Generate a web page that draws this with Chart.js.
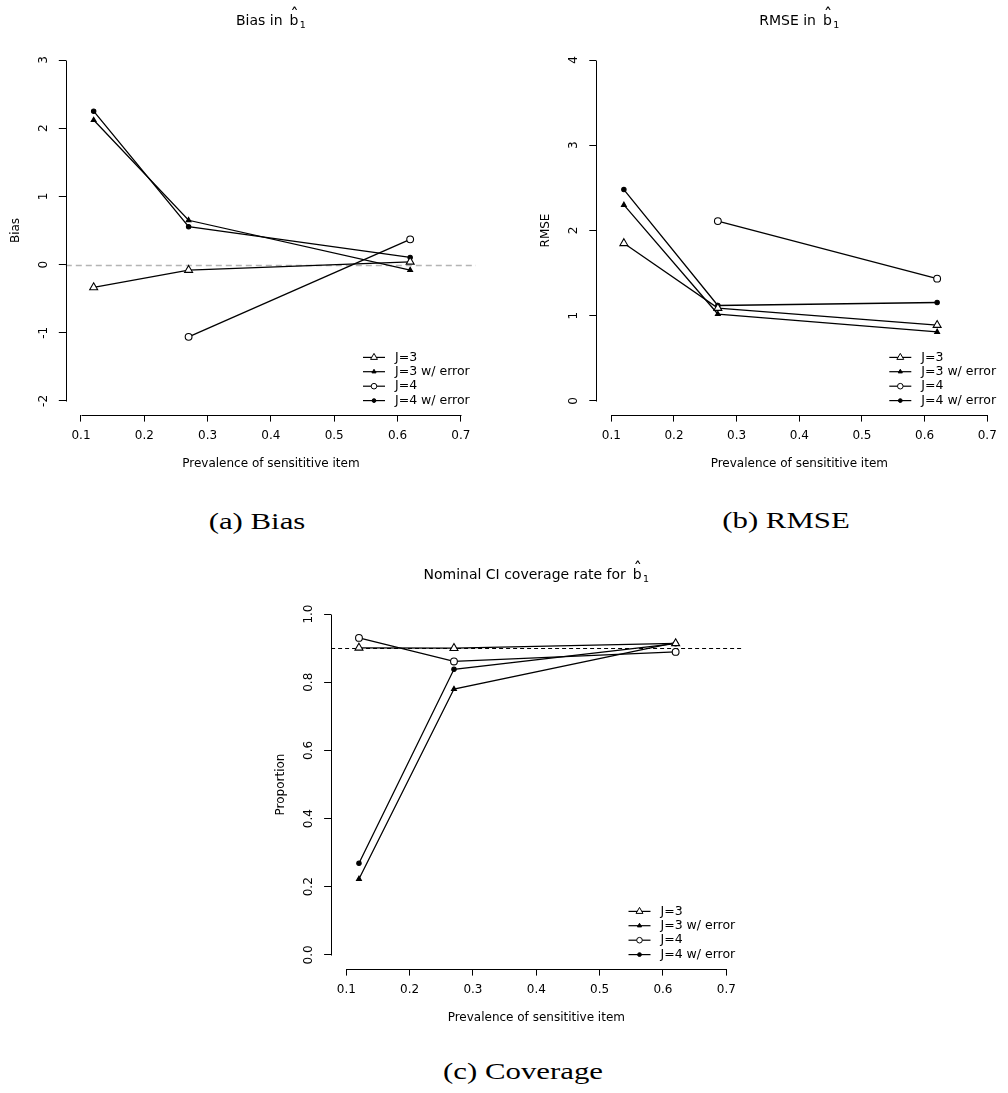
<!DOCTYPE html>
<html><head><meta charset="utf-8">
<script src="https://cdn.jsdelivr.net/npm/chart.js@4.4.0/dist/chart.umd.min.js"></script>
<style>
html,body{margin:0;padding:0;background:#fff}
body{width:1008px;height:1093px;position:relative;overflow:hidden}
.box{position:absolute}
.cap{position:absolute;width:300px;text-align:center;font-family:"Liberation Serif",serif;font-size:23px;line-height:23px;color:#000;white-space:nowrap;transform:scaleX(1.34);transform-origin:center}
</style></head><body>
<div class="box" style="left:0px;top:0px"><canvas id="cA" width="500" height="480"></canvas></div>
<div class="box" style="left:500px;top:0px"><canvas id="cB" width="508" height="480"></canvas></div>
<div class="box" style="left:260px;top:554px"><canvas id="cC" width="500" height="480"></canvas></div>
<div class="cap" style="left:106.7px;top:509.7px">(a) Bias</div>
<div class="cap" style="left:635.5px;top:509px">(b) RMSE</div>
<div class="cap" style="left:372.7px;top:1059.7px">(c) Coverage</div>
<script>
// ---- data ----
const prevalence = [0.12, 0.27, 0.62];
const seriesNames = ["J=3", "J=3 w/ error", "J=4", "J=4 w/ error"];

const biasJ3    = [-0.335, -0.08, 0.04];
const biasJ3err = [2.12, 0.65, -0.08];
const biasJ4    = [null, -1.06, 0.37];
const biasJ4err = [2.25, 0.555, 0.105];

const rmseJ3    = [1.85, 1.09, 0.89];
const rmseJ3err = [2.30, 1.02, 0.81];
const rmseJ4    = [null, 2.11, 1.435];
const rmseJ4err = [2.48, 1.12, 1.155];

const covJ3    = [0.901, 0.900, 0.914];
const covJ3err = [0.223, 0.780, 0.916];
const covJ4    = [0.930, 0.861, 0.889];
const covJ4err = [0.269, 0.838, 0.913];

const xTicks    = [0.1, 0.2, 0.3, 0.4, 0.5, 0.6, 0.7];
const biasTicks = [-2, -1, 0, 1, 2, 3];
const rmseTicks = [0, 1, 2, 3, 4];
const covTicks  = [0, 0.2, 0.4, 0.6, 0.8, 1.0];
const biasRef = 0;
const covRef = 0.9;

// ---- styling ----
const FONT = '"DejaVu Sans", Verdana, sans-serif';
const markers = [
  {pointStyle: 'triangle', radius: 4.6, fill: '#ffffff', legendRadius: 4.0},
  {pointStyle: 'triangle', radius: 2.8, fill: '#000000', legendRadius: 2.4},
  {pointStyle: 'circle',   radius: 3.4, fill: '#ffffff', legendRadius: 2.8},
  {pointStyle: 'circle',   radius: 2.2, fill: '#000000', legendRadius: 1.9}
];

function makeDatasets(seriesList) {
  return seriesList.map((vals, i) => ({
    label: seriesNames[i],
    data: prevalence.map((x, k) => ({x: x, y: vals[k]})).filter(p => p.y !== null),
    showLine: true,
    borderColor: '#000',
    borderWidth: 1.3,
    pointStyle: markers[i].pointStyle,
    pointRadius: markers[i].radius,
    pointHoverRadius: markers[i].radius,
    pointBackgroundColor: markers[i].fill,
    pointBorderColor: '#000',
    pointBorderWidth: 1.1,
    legendRadius: markers[i].legendRadius,
    fill: false,
    tension: 0
  }));
}

function drawMarker(ctx, style, r, x, y) {
  ctx.beginPath();
  if (style === 'triangle') {
    for (let k = 0; k < 3; k++) {
      const a = -Math.PI / 2 + k * 2 * Math.PI / 3;
      const px = x + Math.cos(a) * r, py = y + Math.sin(a) * r;
      if (k === 0) ctx.moveTo(px, py); else ctx.lineTo(px, py);
    }
    ctx.closePath();
  } else {
    ctx.arc(x, y, r, 0, Math.PI * 2);
  }
  ctx.fill();
  ctx.stroke();
}

const rStylePlugin = {
  id: 'rstyle',
  beforeDatasetsDraw(chart, args, opts) {
    const ca = chart.chartArea, ctx = chart.ctx;
    const yPix = Math.round(chart.scales.y.getPixelForValue(opts.refValue)) + 0.5;
    ctx.save();
    ctx.strokeStyle = opts.refColor;
    ctx.lineWidth = opts.refWidth;
    ctx.setLineDash(opts.refDash);
    ctx.beginPath();
    ctx.moveTo(ca.left, yPix);
    ctx.lineTo(ca.right, yPix);
    ctx.stroke();
    ctx.restore();
  },
  afterDraw(chart, args, opts) {
    const ca = chart.chartArea, ctx = chart.ctx;
    const xs = chart.scales.x, ys = chart.scales.y;
    ctx.save();
    ctx.strokeStyle = '#000';
    ctx.lineWidth = 1;
    ctx.setLineDash([]);
    // x axis line spanning first..last tick
    const by = Math.round(ca.bottom) + 0.5;
    ctx.beginPath();
    ctx.moveTo(Math.round(xs.getPixelForValue(xTicks[0])) + 0.5, by);
    ctx.lineTo(Math.round(xs.getPixelForValue(xTicks[xTicks.length - 1])) + 0.5, by);
    ctx.stroke();
    // y axis line spanning first..last tick
    const yt = opts.yTicks;
    const lx = Math.round(ca.left) + 0.5;
    ctx.beginPath();
    ctx.moveTo(lx, Math.round(ys.getPixelForValue(yt[0])) + 0.5);
    ctx.lineTo(lx, Math.round(ys.getPixelForValue(yt[yt.length - 1])) + 0.5);
    ctx.stroke();

    // title: "<main> b-hat subscript 1"
    ctx.fillStyle = '#000';
    ctx.textAlign = 'left';
    ctx.textBaseline = 'alphabetic';
    ctx.font = '14px ' + FONT;
    const wMain = ctx.measureText(opts.titleMain).width;
    const wB = ctx.measureText('b').width;
    ctx.font = '9.5px ' + FONT;
    const wSub = ctx.measureText('1').width;
    const gap = 2.5;
    const total = wMain + gap + wB + 1.5 + wSub;
    const cx = (ca.left + ca.right) / 2;
    const x0 = cx - total / 2;
    const base = ca.top - 21;
    ctx.font = '14px ' + FONT;
    ctx.fillText(opts.titleMain, x0, base);
    const bx = x0 + wMain + gap;
    ctx.fillText('b', bx, base);
    ctx.textAlign = 'center';
    ctx.font = '17px ' + FONT;
    ctx.fillText('\u02C6', bx + wB / 2 + 0.5, base - 4.3);
    ctx.textAlign = 'left';
    ctx.font = '9.5px ' + FONT;
    ctx.fillText('1', bx + wB + 1.5, base + 2.5);

    // legend (bottom right, R style)
    const rows = [57.2, 42.9, 28.4, 14.0];
    ctx.font = '12.5px ' + FONT;
    ctx.textBaseline = 'middle';
    ctx.textAlign = 'left';
    chart.data.datasets.forEach((ds, i) => {
      const y = ca.bottom - rows[i];
      ctx.strokeStyle = '#000';
      ctx.lineWidth = 1.2;
      ctx.beginPath();
      ctx.moveTo(ca.right - 113, y);
      ctx.lineTo(ca.right - 91, y);
      ctx.stroke();
      ctx.fillStyle = ds.pointBackgroundColor;
      ctx.lineWidth = 1;
      drawMarker(ctx, ds.pointStyle, ds.legendRadius, ca.right - 102, y);
      ctx.fillStyle = '#000';
      ctx.fillText(ds.label, ca.right - 81, y);
    });
    ctx.restore();
  }
};

function makeChart(id, cfg) {
  const ticksY = cfg.yTicks;
  return new Chart(document.getElementById(id), {
    type: 'scatter',
    data: {datasets: makeDatasets(cfg.series)},
    plugins: [rStylePlugin],
    options: {
      responsive: false,
      animation: false,
      devicePixelRatio: 1,
      layout: {padding: {left: cfg.padLeft, right: cfg.padRight, top: 46.4, bottom: 0.4}},
      scales: {
        x: {
          type: 'linear', min: 0.076, max: 0.724,
          afterBuildTicks: s => { s.ticks = xTicks.map(v => ({value: v})); },
          afterFit: s => { s.height = 65; },
          grid: {display: true, drawOnChartArea: false, drawTicks: true, tickLength: 7, color: '#000', lineWidth: 1},
          border: {display: false},
          ticks: {font: {family: FONT, size: 12}, color: '#000', padding: 7.5, minRotation: 0, maxRotation: 0, autoSkip: false,
                  callback: v => Number(v).toFixed(1)},
          title: {display: true, text: 'Prevalence of sensititive item', color: '#000',
                  font: {family: FONT, size: 12}, padding: {top: 0, bottom: 8.4}}
        },
        y: {
          type: 'linear', min: cfg.yMin, max: cfg.yMax,
          afterBuildTicks: s => { s.ticks = ticksY.map(v => ({value: v})); },
          afterFit: s => { s.width = 65; },
          grid: {display: true, drawOnChartArea: false, drawTicks: true, tickLength: 7, color: '#000', lineWidth: 1},
          border: {display: false},
          ticks: {font: {family: FONT, size: 12}, color: '#000', padding: cfg.yTickPad, minRotation: 90, maxRotation: 90,
                  crossAlign: 'center', autoSkip: false, callback: cfg.yFmt},
          title: {display: true, text: cfg.yTitle, color: '#000',
                  font: {family: FONT, size: 12}, padding: {top: 7.8, bottom: 0}}
        }
      },
      plugins: {
        legend: {display: false},
        tooltip: {enabled: false},
        title: {display: false},
        rstyle: {refValue: cfg.refValue, refColor: cfg.refColor, refWidth: cfg.refWidth, refDash: cfg.refDash,
                 yTicks: ticksY, titleMain: cfg.titleMain}
      }
    }
  });
}

makeChart('cA', {
  series: [biasJ3, biasJ3err, biasJ4, biasJ4err],
  yTicks: biasTicks, yMin: -2.2, yMax: 3.2, yTitle: 'Bias',
  titleMain: 'Bias in ',
  yFmt: v => String(v), yTickPad: 9.0,
  padLeft: 0.8, padRight: 24,
  refValue: biasRef, refColor: '#b4b4b4', refWidth: 1.3, refDash: [6, 4]
});
makeChart('cB', {
  series: [rmseJ3, rmseJ3err, rmseJ4, rmseJ4err],
  yTicks: rmseTicks, yMin: -0.16, yMax: 4.16, yTitle: 'RMSE',
  titleMain: 'RMSE in ',
  yFmt: v => String(v), yTickPad: 11.2,
  padLeft: 31.3, padRight: 1.1,
  refValue: -100, refColor: 'rgba(0,0,0,0)', refWidth: 0, refDash: []
});
makeChart('cC', {
  series: [covJ3, covJ3err, covJ4, covJ4err],
  yTicks: covTicks, yMin: -0.04, yMax: 1.04, yTitle: 'Proportion',
  titleMain: 'Nominal CI coverage rate for ',
  yFmt: v => Number(v).toFixed(1), yTickPad: 5.5,
  padLeft: 6.1, padRight: 18.5,
  refValue: covRef, refColor: '#000', refWidth: 1, refDash: [4, 3]
});
</script>
</body></html>
